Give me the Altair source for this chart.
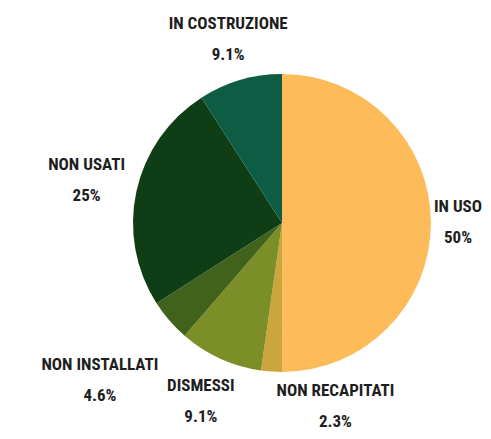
import altair as alt
import pandas as pd

categories = ["IN USO", "NON RECAPITATI", "DISMESSI", "NON INSTALLATI", "NON USATI", "IN COSTRUZIONE"]
values = [50, 2.3, 9.1, 4.6, 25, 9.1]
pct_labels = ["50%", "2.3%", "9.1%", "4.6%", "25%", "9.1%"]
colors = ["#FDBC59", "#CBA63C", "#7C8E28", "#40621A", "#0F3D15", "#0D5C44"]
label_radius = [176, 196, 196, 241, 200, 191]

df = pd.DataFrame({
    "cat": categories,
    "val": values,
    "pct": pct_labels,
    "lr": label_radius,
    "ord": list(range(len(categories))),
})
df["label"] = df["cat"] + "\n" + df["pct"]

theta_scale = alt.Scale(domain=[0, sum(values)])

arcs = alt.Chart(df).mark_arc(radius=149).encode(
    theta=alt.Theta("val:Q", stack=True, scale=theta_scale),
    order=alt.Order("ord:Q"),
    color=alt.Color("cat:N", scale=alt.Scale(domain=categories, range=colors), legend=None),
)

font = "Roboto Condensed, Liberation Sans Narrow, Roboto, sans-serif"
text_common = dict(font=font, fontWeight="bold", fontSize=17, lineBreak="\n",
                   lineHeight=31, color="#1e1e1e", align="center", baseline="middle")

lab_base = alt.Chart(df).transform_window(
    cum="sum(val)", sort=[alt.SortField("ord")]
).transform_calculate(
    mid="datum.cum - datum.val / 2"
)

labels_main = lab_base.transform_calculate(
    labA="datum.cat == 'NON RECAPITATI' ? '' : datum.label"
).mark_text(dy=-15.5, **text_common).encode(
    theta=alt.Theta("mid:Q", stack=None, scale=theta_scale),
    text="labA:N",
    radius=alt.Radius("lr:Q", scale=None),
)

labels_side = lab_base.transform_calculate(
    labB="datum.cat == 'NON RECAPITATI' ? datum.label : ''"
).mark_text(dx=67, dy=-28, **text_common).encode(
    theta=alt.Theta("mid:Q", stack=None, scale=theta_scale),
    text="labB:N",
    radius=alt.Radius("lr:Q", scale=None),
)

chart = alt.layer(arcs, labels_main, labels_side).properties(
    width=300, height=300,
    autosize=alt.AutoSizeParams(type="none"),
    padding={"left": 124, "top": 65, "right": 51, "bottom": 58},
).configure_view(stroke=None)

chart.save("out.html", embed_options={"renderer": "svg", "actions": False})
